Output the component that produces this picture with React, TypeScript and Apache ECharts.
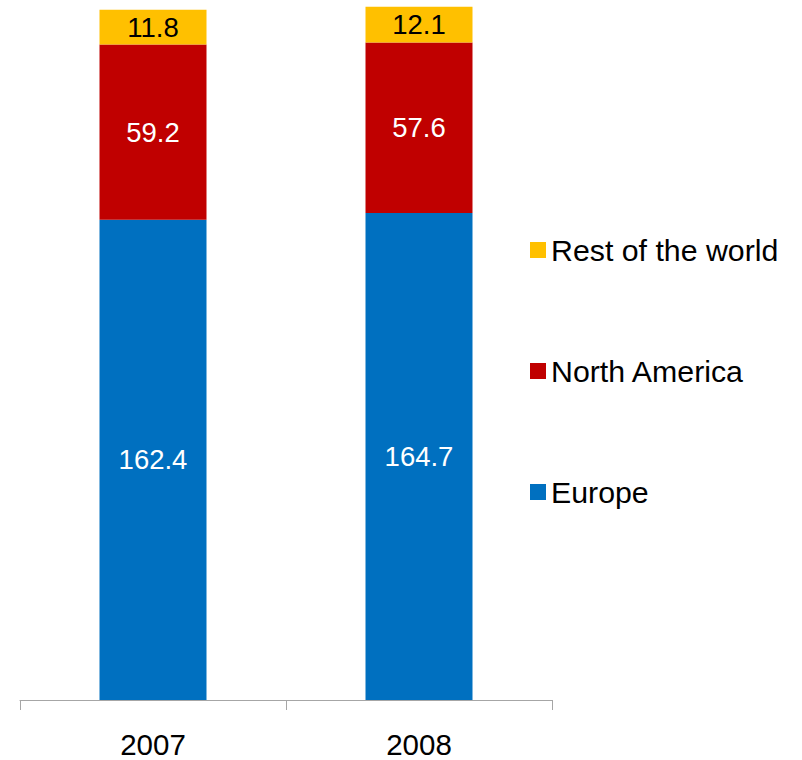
import React, { useEffect, useRef } from "react";
import * as echarts from "echarts";

const categories = ["2007", "2008"];
const europe = [162.4, 164.7];
const northAmerica = [59.2, 57.6];
const restOfWorld = [11.8, 12.1];
const legendOrder = ["Rest of the world", "North America", "Europe"];

export default function App() {
  const ref = useRef<HTMLDivElement>(null);
  useEffect(() => {
    if (!ref.current) return;
    const chart = echarts.init(ref.current, null, { renderer: "svg" });
    const font = "Liberation Sans, Arial, sans-serif";
    const mk = (name: string, data: number[], color: string, labelColor: string) => ({
      name,
      type: "bar",
      stack: "total",
      data,
      barWidth: 107,
      itemStyle: { color },
      label: {
        show: true,
        position: "inside",
        color: labelColor,
        fontSize: 27.5,
        fontFamily: font,
        formatter: (p: any) => p.value.toFixed(1),
      },
    });
    chart.setOption({
      animation: false,
      backgroundColor: "#ffffff",
      grid: { left: 20, right: 250, top: 2, bottom: 60, containLabel: false },
      legend: {
        orient: "vertical",
        left: 525,
        top: 230,
        data: legendOrder,
        icon: "rect",
        itemWidth: 16,
        itemHeight: 16,
        itemGap: 91,
        selectedMode: false,
        textStyle: { fontSize: 30.3, fontFamily: font, color: "#000", lineHeight: 30 },
      },
      xAxis: {
        type: "category",
        data: categories,
        axisLine: { lineStyle: { color: "#a6a6a6", width: 1 } },
        axisTick: { show: true, length: 10, lineStyle: { color: "#a6a6a6" } },
        axisLabel: { fontSize: 29.5, fontFamily: font, color: "#000", margin: 29 },
      },
      yAxis: {
        type: "value",
        min: 0,
        max: 236,
        show: false,
        splitLine: { show: false },
      },
      series: [
        mk("Europe", europe, "#0070C0", "#ffffff"),
        mk("North America", northAmerica, "#C00000", "#ffffff"),
        mk("Rest of the world", restOfWorld, "#FFC000", "#000000"),
      ],
    });
    return () => chart.dispose();
  }, []);
  return <div ref={ref} style={{ width: 802, height: 760, position: "absolute", left: 0, top: 0 }} />;
}
